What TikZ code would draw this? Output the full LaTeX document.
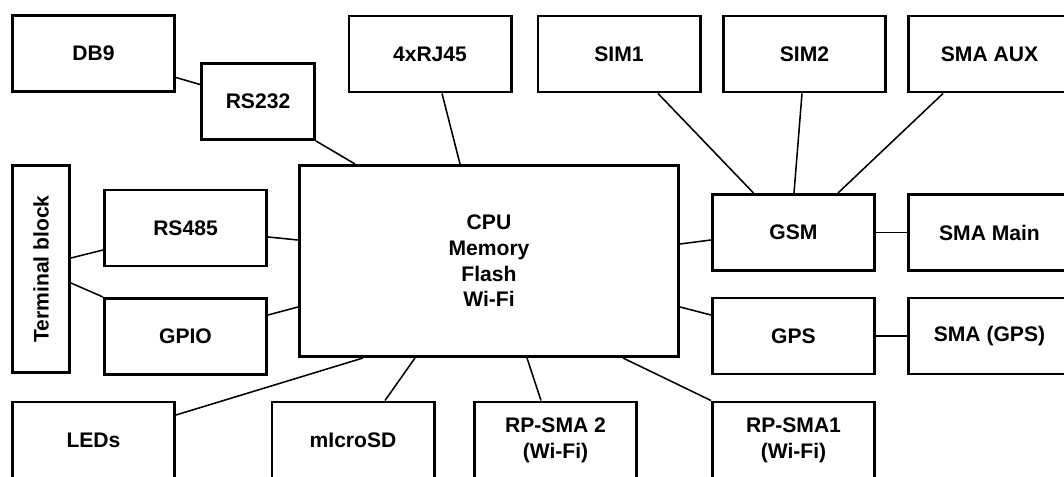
\documentclass[tikz,border=0pt]{standalone}
\usepackage{fontspec}
\setmainfont{Liberation Sans}
\usetikzlibrary{calc}
\begin{document}
\begin{tikzpicture}[x=0.025cm,y=-0.025cm,
    blksty/.style={draw,line width=2.1pt,minimum width=4.05cm,minimum
      height=1.9cm,inner sep=0pt,align=center,font=\bfseries\fontsize{15}{18.3}\selectfont},
    linksty/.style={line width=1.1pt}]
  \useasboundingbox (0,0) rectangle (1064,477);
  \clip (0,0) rectangle (1064,477);
  % linha de cima
  \node[blksty] (db9) at (93.5,53.5) {DB9};
  \node[blksty,minimum width=2.825cm] (rs232) at (258,101.5) {RS232};
  \node[blksty] (rj45) at (430,54) {4xRJ45};
  \node[blksty] (sim1) at (619,54) {SIM1};
  \node[blksty] (sim2) at (804.5,54) {SIM2};
  \node[blksty] (smaaux) at (989.5,54) {SMA AUX};
  % meio
  \node[blksty,minimum width=1.425cm,minimum height=5.175cm] (term) at (41,269)
  {\rotatebox{90}{Terminal block}};
  \node[blksty] (rs485) at (185.5,228) {RS485};
  \node[blksty] (gpio) at (185.5,336.5) {GPIO};
  \node[blksty,minimum width=9.475cm,minimum height=4.775cm] (cpu) at (489,261)
  {CPU\\Memory\\Flash\\Wi-Fi};
  \node[blksty] (gsm) at (793.5,232.5) {GSM};
  \node[blksty] (smamain) at (989.5,232.5) {SMA Main};
  \node[blksty] (gps) at (793.5,336) {GPS};
  \node[blksty] (smagps) at (989.5,336) {SMA (GPS)};
  % linha de baixo
  \node[blksty] (leds) at (93.5,440) {LEDs};
  \node[blksty] (microsd) at (353,440) {mIcroSD};
  \node[blksty] (rpsma2) at (555.5,440) {RP-SMA 2\\(Wi-Fi)};
  \node[blksty] (rpsma1) at (793.5,440) {RP-SMA1\\(Wi-Fi)};

  % ligacoes
  \draw[linksty] ($(db9.east)+(0,24)$) -- ($(rs232.west)+(0,-17)$);
  \draw[linksty] (rs232.south east) -- ($(cpu.north)+(-134,0)$);
  \draw[linksty] ($(rj45.south)+(12,0)$) -- ($(cpu.north)+(-29,0)$);
  \draw[linksty] ($(sim1.south)+(39,0)$) -- ($(gsm.north)+(-40,0)$);
  \draw[linksty] ($(sim2.south)+(-2.5,0)$) -- ($(gsm.north)+(0.5,0)$);
  \draw[linksty] ($(smaaux.south)+(-46.5,0)$) -- ($(gsm.north)+(44.5,0)$);
  \draw[linksty] (gsm) -- (smamain);
  \draw[linksty] (gps) -- (smagps);
  \draw[linksty] ($(cpu.east)+(0,-17)$) -- ($(gsm.west)+(0,7.5)$);
  \draw[linksty] ($(cpu.east)+(0,46)$) -- ($(gps.west)+(0,-21)$);
  \draw[linksty] ($(rs485.east)+(0,9)$) -- ($(cpu.west)+(0,-21)$);
  \draw[linksty] ($(gpio.east)+(0,-21.5)$) -- ($(cpu.west)+(0,46)$);
  \draw[linksty] ($(term.east)+(0,-11)$) -- ($(rs485.west)+(0,22)$);
  \draw[linksty] ($(term.east)+(0,14)$) -- (gpio.north west);
  \draw[linksty] ($(cpu.south)+(-126,0)$) -- ($(leds.east)+(0,-25)$);
  \draw[linksty] ($(cpu.south)+(-74,0)$) -- ($(microsd.north)+(32,0)$);
  \draw[linksty] ($(cpu.south)+(38,0)$) -- ($(rpsma2.north)+(-14.5,0)$);
  \draw[linksty] ($(cpu.south)+(134,0)$) -- (rpsma1.north west);
\end{tikzpicture}
\end{document}
